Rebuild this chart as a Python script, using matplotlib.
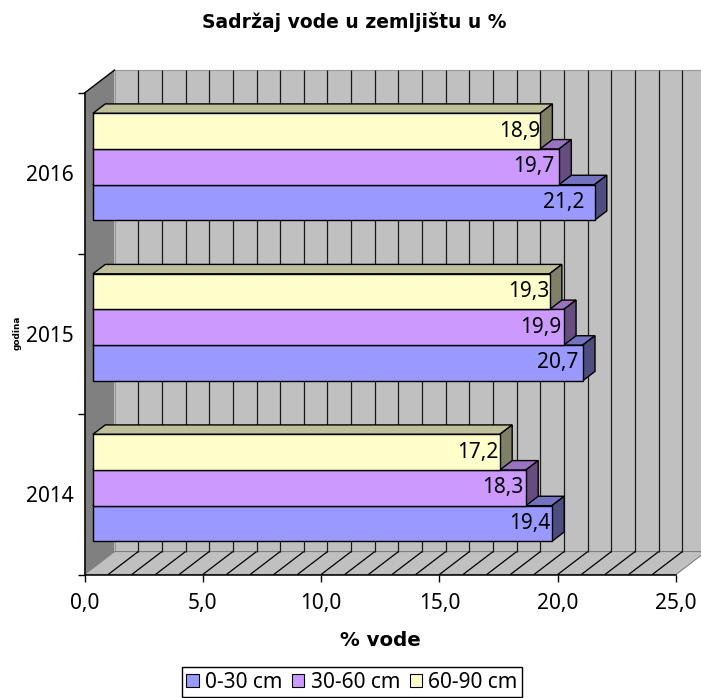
import matplotlib
matplotlib.use('Agg')
import matplotlib.pyplot as plt
import numpy as np
from matplotlib.collections import LineCollection
from matplotlib.patches import Patch, Polygon

years = ['2014', '2015', '2016']
series_names = ['0-30 cm', '30-60 cm', '60-90 cm']
shallow = [19.4, 20.7, 21.2]
middle = [18.3, 19.9, 19.7]
deep = [17.2, 19.3, 18.9]
x_ticks = [0, 5, 10, 15, 20, 25]
colors = ['#9999FF', '#CC99FF', '#FFFFCC']
top_colors = ['#7373BF', '#9973BF', '#BFBF99']
side_colors = ['#4D4D80', '#664D80', '#808066']

W, H = 701, 698
FONT = 'Noto Sans'
BOLD = 'DejaVu Sans'
SIZE = 15

# depth of the fake 3d box, in data units
DX, DY = 1.27, 0.143
BAR_H = 1 / 4.5
FRONT = 0.28
DEPTH = 0.41
# excel does not keep the labels at a fixed gap from the bar end (pixels, per series and year)
LABEL_GAP = [[22, 25, 30.5], [23, 23, 25], [22, 21, 20]]

fig = plt.figure(figsize=(W / 100, H / 100), dpi=100)
ax = fig.add_axes([84.5 / W, (H - 574.5) / H, (676 - 84.5) / W, (574.5 - 93) / H])
ax.set_xlim(0, 25)
ax.set_ylim(0, 3)
ax.patch.set_visible(False)
px = 25 / (676 - 84.5)


def poly(points, face, edge='black', lw=1.0, z=1):
    ax.add_patch(Polygon(points, closed=True, facecolor=face, edgecolor=edge,
                         linewidth=lw, clip_on=False, zorder=z, joinstyle='miter'))


# walls and floor
poly([(DX, DY), (25 + DX, DY), (25 + DX, 3 + DY), (DX, 3 + DY)], '#C0C0C0', edge='#9a9a9a', lw=0.8)
poly([(0, 0), (DX, DY), (DX, 3 + DY), (0, 3)], '#808080', edge='none')
poly([(0, 0), (25, 0), (25 + DX, DY), (DX, DY)], '#C0C0C0', edge='#808080', lw=0.8)
ax.plot([0, DX], [3, 3 + DY], color='black', lw=1.0, clip_on=False, zorder=1.5)

grid_vals = np.arange(1, 25)
back_lines = [[(v + DX, DY), (v + DX, 3 + DY)] for v in grid_vals]
floor_lines = [[(v, 0), (v + DX, DY)] for v in grid_vals]
ax.add_collection(LineCollection(back_lines, colors='#1a1a1a', linewidths=0.9, zorder=1.2, clip_on=False))
ax.add_collection(LineCollection(floor_lines, colors='black', linewidths=0.9, zorder=1.2, clip_on=False))

# bars, nearest to the axis first so the next series covers its top
fx, fy = FRONT * DX, FRONT * DY
bx, by = DEPTH * DX, DEPTH * DY
for s, values in enumerate([shallow, middle, deep]):
    for i, v in enumerate(values):
        y0 = i + (1 - 3 * BAR_H) / 2 + fy + s * BAR_H
        y1 = y0 + BAR_H
        x0, x1 = fx, fx + v
        poly([(x0, y1), (x1, y1), (x1 + bx, y1 + by), (x0 + bx, y1 + by)], top_colors[s], z=3)
        poly([(x1, y0), (x1 + bx, y0 + by), (x1 + bx, y1 + by), (x1, y1)], side_colors[s], z=3)
        poly([(x0, y0), (x1, y0), (x1, y1), (x0, y1)], colors[s], z=3)
        ax.text(x1 - LABEL_GAP[s][i] * px, (y0 + y1) / 2, f'{v:.1f}'.replace('.', ','), ha='center',
                va='center', fontsize=SIZE, family=FONT, color='black', zorder=4)

# axes
for side in ['top', 'right']:
    ax.spines[side].set_visible(False)
for side in ['left', 'bottom']:
    ax.spines[side].set_linewidth(1.1)
    ax.spines[side].set_zorder(2)

ax.set_xticks(x_ticks)
ax.set_xticklabels([f'{t:.1f}'.replace('.', ',') for t in x_ticks], fontsize=SIZE, family=FONT)
ax.set_yticks([0, 1, 2, 3])
ax.set_yticklabels([])
ax.set_yticks([0.5, 1.5, 2.5], minor=True)
ax.set_yticklabels(years, minor=True, fontsize=SIZE, family=FONT)
ax.tick_params(axis='both', which='major', length=5, width=1.0, direction='out')
ax.tick_params(axis='x', pad=8)
ax.tick_params(axis='y', which='minor', length=0, pad=7.5)

fig.text(354 / W, 1 - 22 / H, 'Sadržaj vode u zemljištu u %', ha='center', va='center',
         fontsize=13.5, fontweight='bold', family=BOLD)
fig.text(380 / W, 1 - 640 / H, '% vode', ha='center', va='center',
         fontsize=14.2, fontweight='bold', family=BOLD)
fig.text(17 / W, 1 - 333 / H, 'godina', ha='center', va='center', rotation=90,
         fontsize=6.4, fontweight='bold', family=BOLD)

handles = [Patch(facecolor=c, edgecolor='black', linewidth=0.8, label=n)
           for c, n in zip(colors, series_names)]
fig.legend(handles=handles, ncol=3, loc='center', bbox_to_anchor=(352 / W, 1 - 682 / H),
           frameon=True, fancybox=False, framealpha=1, edgecolor='black',
           prop={'family': FONT, 'size': SIZE}, handlelength=0.6, handleheight=0.6,
           handletextpad=0.3, columnspacing=0.45, borderpad=0.2, borderaxespad=0)

fig.savefig('out.png', dpi=100)
